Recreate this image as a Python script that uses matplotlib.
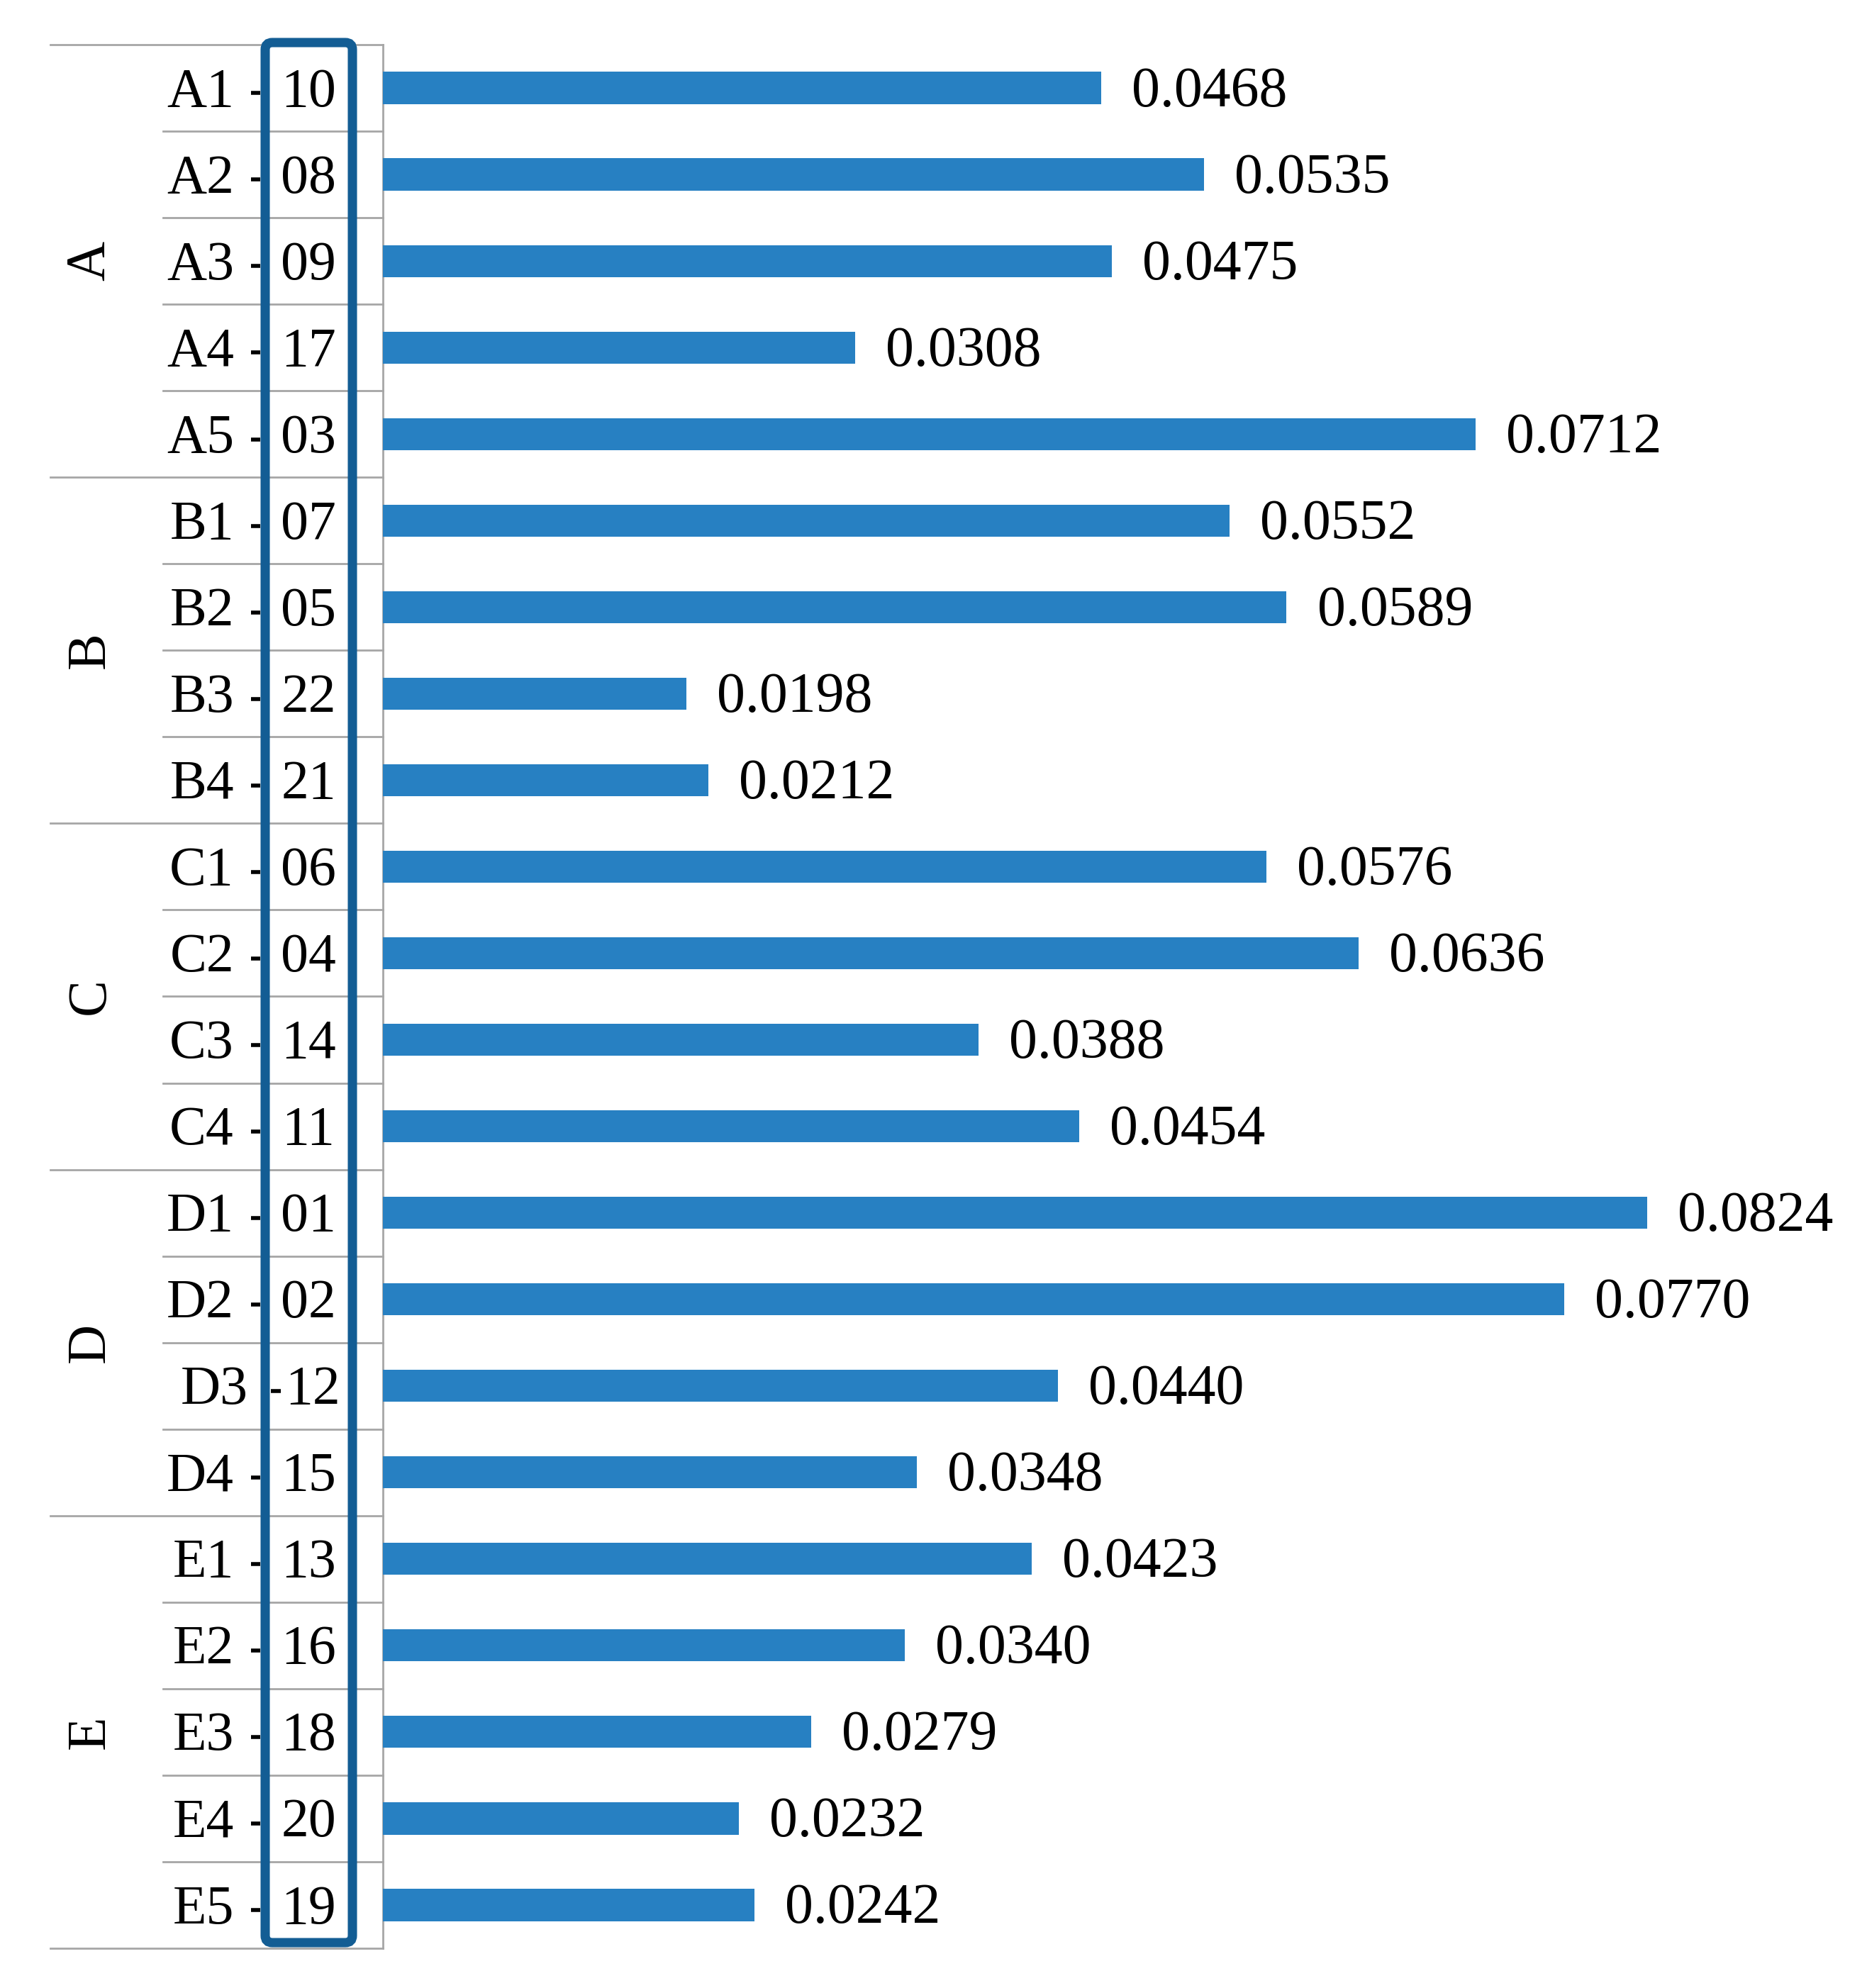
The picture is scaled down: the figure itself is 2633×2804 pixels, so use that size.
import matplotlib
matplotlib.use("Agg")
import matplotlib.pyplot as plt
from matplotlib.transforms import blended_transform_factory, IdentityTransform
from matplotlib.patches import FancyBboxPatch
from matplotlib.lines import Line2D

# ---- data ----
groups = ['A', 'B', 'C', 'D', 'E']
group_sizes = [5, 4, 4, 4, 5]
categories = ['A1', 'A2', 'A3', 'A4', 'A5',
              'B1', 'B2', 'B3', 'B4',
              'C1', 'C2', 'C3', 'C4',
              'D1', 'D2', 'D3', 'D4',
              'E1', 'E2', 'E3', 'E4', 'E5']
ranks = ['10', '08', '09', '17', '03',
         '07', '05', '22', '21',
         '06', '04', '14', '11',
         '01', '02', '12', '15',
         '13', '16', '18', '20', '19']
values = [0.0468, 0.0535, 0.0475, 0.0308, 0.0712,
          0.0552, 0.0589, 0.0198, 0.0212,
          0.0576, 0.0636, 0.0388, 0.0454,
          0.0824, 0.0770, 0.0440, 0.0348,
          0.0423, 0.0340, 0.0279, 0.0232, 0.0242]

W, H, DPI = 2633, 2804, 100
FONT = 'Liberation Serif'
FS = 56
FS_VAL = 57.5
BAR_COLOR = '#2780C2'
BOX_COLOR = '#135D94'
GRID_COLOR = '#A6A6A6'

fig = plt.figure(figsize=(W / DPI, H / DPI), dpi=DPI)
top_px, bot_px = 63, 2748
spine_px = 540
ax = fig.add_axes([spine_px / W, (H - bot_px) / H, 1 - spine_px / W, (bot_px - top_px) / H])

n = len(categories)
row_px = (bot_px - top_px) / n
base_off = 25.5 / row_px  # baseline offset below row centre (data units)

ypos = list(range(n))
ax.barh(ypos, values, height=0.37, color=BAR_COLOR, zorder=3)
ax.set_ylim(n - 0.5, -0.5)
ax.set_xlim(0, 0.09673)

for spine in ['top', 'right', 'bottom']:
    ax.spines[spine].set_visible(False)
ax.spines['left'].set_color(GRID_COLOR)
ax.spines['left'].set_linewidth(2.0)
ax.set_xticks([])
ax.set_yticks([])

for y, v in zip(ypos, values):
    ax.annotate(f'{v:.4f}', xy=(v, y + base_off), xytext=(31, 0), textcoords='offset points',
                ha='left', va='baseline', fontsize=FS_VAL, family=FONT, color='black')

# transform: x in pixels, y in data
trans = blended_transform_factory(IdentityTransform(), ax.transData)

# separator lines
bounds = [-0.5]
acc = -0.5
for s in group_sizes:
    acc += s
    bounds.append(acc)
for b in [i - 0.5 for i in range(n + 1)]:
    x0 = 71 if b in bounds else 230
    ax.add_line(Line2D([x0, spine_px], [b, b], transform=trans, color=GRID_COLOR,
                       lw=2.0, clip_on=False, zorder=1))

# category labels, ticks and rank numbers
for y, cat, rk in zip(ypos, categories, ranks):
    if cat == 'D3':
        lab_x, d0, d1, num_x = 350, 382, 396, 441
    else:
        lab_x, d0, d1, num_x = 330, 354, 367, 435
    ax.text(lab_x, y + base_off, cat, transform=trans, ha='right', va='baseline',
            fontsize=FS, family=FONT)
    ax.add_line(Line2D([d0, d1], [y + 0.06, y + 0.06], transform=trans, color='black',
                       lw=4.0, clip_on=False, solid_capstyle='butt'))
    ax.text(num_x, y + base_off, rk, transform=trans, ha='center', va='baseline',
            fontsize=FS, family=FONT)

# group labels
start = 0
for g, s in zip(groups, group_sizes):
    yc = start + (s - 1) / 2
    ax.text(128, yc, g, transform=trans, ha='center', va='center', rotation=90,
            fontsize=FS, family=FONT)
    start += s

# highlight box around rank column
bx0, bx1 = 374, 497
by_top, by_bot = 60, 2740
box = FancyBboxPatch((bx0, H - by_bot), bx1 - bx0, by_bot - by_top,
                     boxstyle='round,pad=0,rounding_size=10',
                     transform=IdentityTransform(), fill=False,
                     edgecolor=BOX_COLOR, lw=9.4, zorder=10, clip_on=False)
fig.add_artist(box)

fig.savefig('out.png', dpi=DPI, facecolor='white')
